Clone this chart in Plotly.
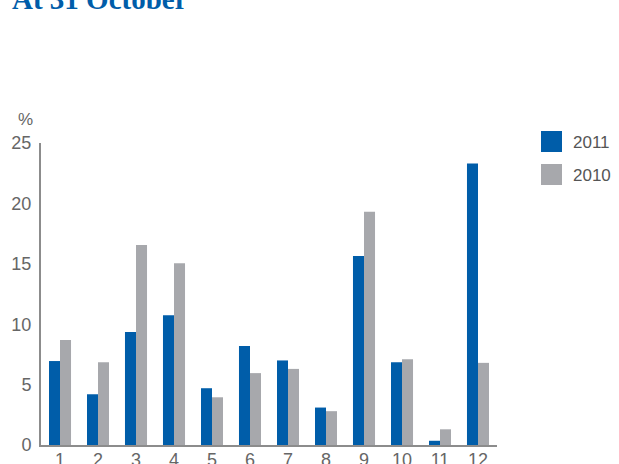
import plotly.graph_objects as go

categories = ["1", "2", "3", "4", "5", "6", "7", "8", "9", "10", "11", "12"]
values_2011 = [6.95, 4.2, 9.35, 10.75, 4.7, 8.2, 7.0, 3.1, 15.65, 6.85, 0.35, 23.3]
values_2010 = [8.7, 6.85, 16.55, 15.05, 3.95, 5.95, 6.3, 2.8, 19.3, 7.1, 1.3, 6.8]
series_names = ["2011", "2010"]
colors = ["#005DA9", "#A7A8AC"]

fig = go.Figure()
for name, vals, col in zip(series_names, [values_2011, values_2010], colors):
    fig.add_trace(go.Bar(x=categories, y=vals, name=name, marker_color=col,
                         marker_line_width=0, showlegend=False))

tick_font = dict(family="Liberation Sans, Arial, sans-serif", size=18, color="#666666")
fig.update_layout(
    width=619, height=464,
    margin=dict(l=41, r=122, t=143, b=19),
    paper_bgcolor="white", plot_bgcolor="white",
    barmode="group", bargap=0.42, bargroupgap=0,
    xaxis=dict(type="category", showline=True, linecolor="#8C8C8C", linewidth=2,
               showgrid=False, ticks="", tickfont=tick_font, zeroline=False,
               automargin=False, ticklabelstandoff=-3),
    yaxis=dict(range=[0, 25], tickvals=[0, 5, 10, 15, 20, 25], showline=True,
               linecolor="#8C8C8C", linewidth=2, showgrid=False, ticks="",
               tickfont=tick_font, zeroline=False, automargin=False,
               ticklabelstandoff=4),
)

# Title (cut off at top)
fig.add_annotation(text="<b>At 31 October</b>", xref="paper", yref="paper",
                   x=-31/456, y=1 + (143 - 17) / 302, xanchor="left", yanchor="bottom",
                   showarrow=False,
                   font=dict(family="Liberation Serif, Times New Roman, serif", size=29, color="#005DA9"))
# % unit label
fig.add_annotation(text="%", xref="paper", yref="paper", x=-16/456, y=1 + (143 - 120) / 302,
                   xanchor="center", yanchor="middle", showarrow=False,
                   font=dict(family="Liberation Sans, Arial, sans-serif", size=17, color="#666666"))

# Legend drawn manually
for i, (name, col) in enumerate(zip(series_names, colors)):
    top = 131 + i * 33
    fig.add_shape(type="rect", xref="paper", yref="paper",
                  x0=(541 - 41) / 456, x1=(562 - 41) / 456,
                  y0=(445 - top) / 302, y1=(445 - top - 21) / 302,
                  fillcolor=col, line_width=0)
    fig.add_annotation(text=name, xref="paper", yref="paper",
                       x=(571 - 41) / 456, y=(445 - top - 11) / 302,
                       xanchor="left", yanchor="middle", showarrow=False,
                       font=dict(family="Liberation Sans, Arial, sans-serif", size=17, color="#555555"))

fig.write_html("out.html", config={"displayModeBar": False},
               post_script="document.body.style.margin='0';document.body.style.padding='0';document.body.style.overflow='hidden';")
